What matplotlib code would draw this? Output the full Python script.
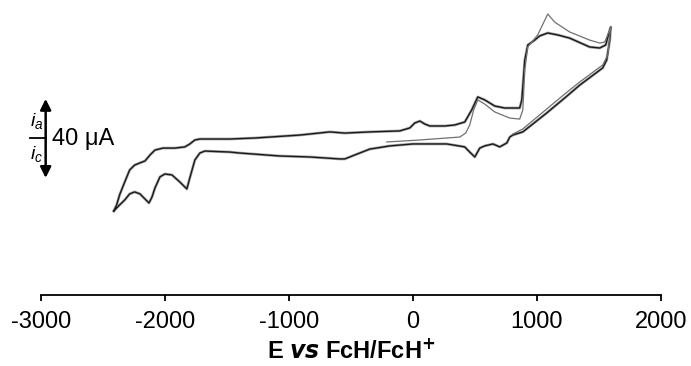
import matplotlib
matplotlib.use("Agg")
import matplotlib.pyplot as plt

plt.rcParams['font.family'] = ['Liberation Sans', 'DejaVu Sans']
plt.rcParams['mathtext.fontset'] = 'custom'
plt.rcParams['mathtext.it'] = 'Liberation Sans:italic'
plt.rcParams['mathtext.rm'] = 'Liberation Sans'
plt.rcParams['axes.unicode_minus'] = False

# anodic sweep, -2400 -> +1600 mV (cycles 2/3)
E_anod = [-2410, -2388, -2364, -2323, -2283, -2243, -2200, -2159, -2119, -2079,
          -2015, -1918, -1838, -1798, -1757, -1717, -1476, -1274, -911, -669,
          -549, -347, -106, -25, 15, 56, 96, 136, 257, 337, 418, 474, 523, 579,
          660, 740, 821, 861, 878, 902, 926, 982, 1022, 1087, 1168, 1264, 1425,
          1506, 1554, 1587, 1595]
I_anod = [-35.9, -32.9, -27.8, -21.3, -15.2, -12.7, -11.6, -10.6, -7.6, -5.1,
          -4.1, -4.1, -3.5, -2.0, 0.0, 0.5, 0.5, 1.0, 2.5, 4.1,
          3.5, 4.1, 4.6, 6.1, 8.6, 9.6, 8.1, 7.1, 7.1, 7.6, 9.1, 15.2, 21.8, 20.3,
          17.2, 16.2, 16.2, 16.2, 20.3, 40.5, 48.1, 50.6, 52.7, 54.2, 53.2, 51.6, 47.1,
          46.6, 48.1, 55.7, 57.2]

# cathodic sweep, +1600 -> -2400 mV
E_cath = [1595, 1587, 1562, 1530, 1345, 1224, 1079, 886, 805, 781, 757, 700,
          645, 579, 539, 499, 458, 418, 273, 0, -186, -347, -469, -549, -590,
          -830, -1073, -1395, -1476, -1677, -1717, -1757, -1798, -1822, -1846,
          -1878, -1942, -1999, -2039, -2079, -2103, -2127, -2159, -2200, -2243,
          -2283, -2323, -2364, -2410]
I_cath = [57.2, 50.6, 40.5, 36.5, 27.8, 21.3, 13.7, 4.1, 2.5, 1.5, -1.5, -3.5,
          -2.0, -3.0, -4.1, -8.6, -6.1, -3.5, -2.0, -2.0, -3.0, -4.6, -7.6, -9.6, -9.6,
          -8.6, -8.1, -6.6, -6.1, -5.6, -6.6, -10.1, -19.2, -24.8, -23.3,
          -21.3, -17.7, -17.2, -18.7, -24.3, -28.9, -31.9, -29.9, -27.3, -26.3,
          -27.3, -30.4, -32.9, -35.9]

# first scan, starting at -200 mV
E_first = [-210, 56, 378, 426, 458, 490, 523, 579, 660, 781, 861, 886, 902, 926,
           1006, 1087, 1143, 1264, 1425, 1506, 1546, 1587, 1595,
           1571, 1530, 1345, 1224, 1079, 886, 805]
I_first = [-1.0, 0.0, 1.5, 3.5, 7.6, 15.2, 20.3, 18.2, 14.2, 11.1, 10.6, 15.2, 35.4, 47.1,
           53.2, 63.8, 59.7, 54.7, 50.6, 49.1, 49.6, 55.7, 57.2,
           43.0, 38.0, 29.4, 23.3, 15.7, 5.6, 3.0]

fig = plt.figure(figsize=(6.91, 3.66), dpi=100)
ax = fig.add_axes([0.0589, 0.194, 0.8977, 0.806])

E_loop = E_anod + E_cath
I_loop = I_anod + I_cath
ax.plot(E_loop, I_loop, color='#a8a8a8', lw=2.0, solid_joinstyle='round')
ax.plot(E_loop, I_loop, color='#1a1a1a', lw=1.0, solid_joinstyle='round')
ax.plot(E_first, I_first, color='#707070', lw=0.9)

ax.set_xlim(-3000, 2000)
ax.set_ylim(-78.5, 70.9)
ax.set_xticks([-3000, -2000, -1000, 0, 1000, 2000])
ax.set_yticks([])
for s in ['left', 'right', 'top']:
    ax.spines[s].set_visible(False)
ax.spines['bottom'].set_linewidth(1.3)
ax.tick_params(axis='x', direction='out', length=4.5, width=1.3,
               labelsize=17, pad=7)
ax.set_xlabel(r'E $\mathbfit{vs}$ FcH/FcH$^{\mathbf{+}}$', fontsize=17,
              fontweight='bold', labelpad=5)

# current scale bar
ax.annotate('', xy=(-2960, 20.8), xytext=(-2960, -19.2),
            arrowprops=dict(arrowstyle='<|-|>', color='black', lw=1.8,
                            mutation_scale=16, shrinkA=0, shrinkB=0),
            annotation_clip=False)
ax.plot([-3090, -2960], [1.0, 1.0], color='black', lw=1.3, clip_on=False)
ax.text(-3030, 4.5, r'$i_a$', fontsize=14, ha='center', va='bottom')
ax.text(-3030, -2.0, r'$i_c$', fontsize=14, ha='center', va='top')
ax.text(-2905, 0.5, '40 μA', fontsize=17, ha='left', va='center')

fig.savefig('out.png', dpi=100)
